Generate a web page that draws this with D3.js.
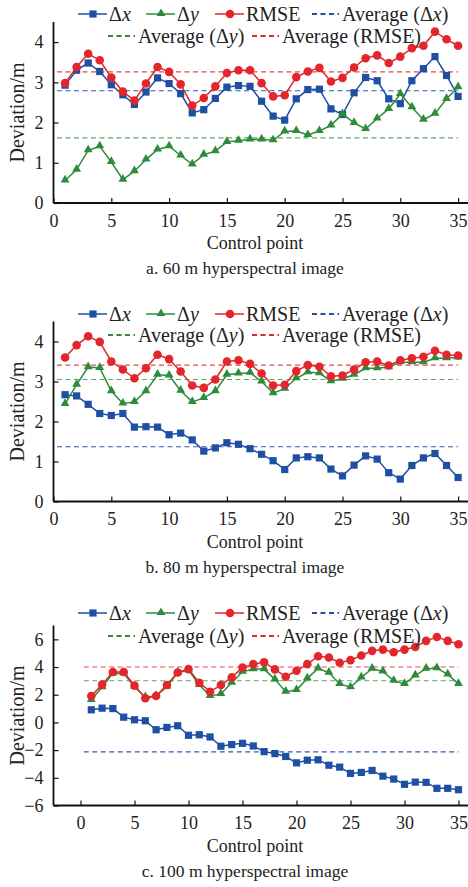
<!DOCTYPE html>
<html>
<head>
<meta charset="utf-8">
<script src="https://cdn.jsdelivr.net/npm/d3@7"></script>
<style>
  body { margin: 0; background: #fff; }
  svg { display: block; font-family: "Liberation Serif", "DejaVu Serif", serif; }
</style>
</head>
<body>
<svg id="chart" width="468" height="887"></svg>
<script>
// control points 1..35
var points = d3.range(1, 36);

// a. 60 m
var dx60 = [2.93,3.30,3.48,3.27,2.94,2.69,2.45,2.76,3.11,2.97,2.72,2.24,2.32,2.60,2.88,2.92,2.90,2.53,2.16,2.06,
            2.59,2.82,2.83,2.34,2.20,2.74,3.12,3.04,2.59,2.47,3.04,3.34,3.64,3.17,2.65];
var dy60 = [0.56,0.83,1.31,1.41,1.02,0.58,0.79,1.08,1.33,1.41,1.18,0.96,1.20,1.29,1.52,1.55,1.58,1.58,1.56,1.78,
            1.79,1.69,1.79,1.93,2.21,1.99,1.84,2.10,2.34,2.71,2.38,2.07,2.22,2.59,2.88];
var rmse60 = [2.98,3.38,3.71,3.55,3.12,2.77,2.55,2.97,3.38,3.26,2.95,2.42,2.61,2.90,3.23,3.30,3.30,2.98,2.65,2.68,
              3.13,3.27,3.36,3.02,3.11,3.37,3.60,3.67,3.48,3.64,3.85,3.91,4.26,4.07,3.91];
var avg60 = [2.79, 1.62, 3.26];

// b. 80 m
var dx80 = [2.67,2.64,2.43,2.20,2.15,2.20,1.86,1.87,1.86,1.67,1.71,1.54,1.26,1.34,1.47,1.43,1.32,1.18,1.02,0.80,
            1.09,1.12,1.09,0.81,0.64,0.91,1.14,1.06,0.72,0.56,0.90,1.09,1.20,0.90,0.60];
var dy80 = [2.44,2.92,3.36,3.34,2.76,2.45,2.49,2.76,3.17,3.15,2.77,2.49,2.59,2.76,3.17,3.20,3.22,3.00,2.71,2.82,
            3.08,3.23,3.21,3.01,3.07,3.17,3.33,3.33,3.36,3.48,3.48,3.48,3.58,3.58,3.60];
var rmse80 = [3.60,3.91,4.13,3.99,3.50,3.30,3.08,3.33,3.67,3.56,3.25,2.90,2.84,3.05,3.50,3.53,3.44,3.20,2.90,2.92,
              3.26,3.41,3.37,3.13,3.15,3.30,3.48,3.50,3.40,3.53,3.58,3.62,3.77,3.67,3.65];
var avg80 = [1.37, 3.05, 3.41];

// c. 100 m
var dx100 = [0.91,1.03,1.00,0.38,0.19,0.12,-0.53,-0.36,-0.24,-0.93,-0.89,-1.05,-1.72,-1.60,-1.51,-1.70,-2.11,-2.25,-2.46,-2.92,
             -2.73,-2.70,-3.09,-3.23,-3.68,-3.61,-3.47,-3.88,-4.09,-4.47,-4.31,-4.33,-4.76,-4.76,-4.86];
var dy100 = [1.63,2.54,3.54,3.54,2.58,1.82,1.91,2.58,3.59,3.78,2.70,1.91,2.06,2.87,3.66,3.85,3.85,3.11,2.22,2.34,
             3.18,3.90,3.59,2.78,2.54,3.25,3.88,3.68,3.01,2.78,3.40,3.88,3.92,3.47,2.78];
var rmse100 = [1.91,2.73,3.64,3.64,2.66,1.75,1.91,2.70,3.61,3.85,2.87,2.22,2.70,3.25,3.97,4.21,4.35,3.83,3.30,3.73,
               4.21,4.78,4.69,4.31,4.50,4.83,5.17,5.26,5.07,5.26,5.45,5.89,6.17,5.89,5.65];
var avg100 = [-2.13, 3.01, 4.00];

var xTicks = [0, 5, 10, 15, 20, 25, 30, 35];
var seriesNames = ["\u0394x", "\u0394y", "RMSE"];
var titles = ["a. 60 m hyperspectral image", "b. 80 m hyperspectral image", "c. 100 m hyperspectral image"];

var colors = ["#1f4fa3", "#2f8a3c", "#e3262b"];
var avgColors = ["#2a5cb0", "#5aa866", "#e8484c"];

var svg = d3.select("#chart");

var panels = [
  {series: [dx60, dy60, rmse60], avg: avg60, title: titles[0], top: 22, bottom: 203, xdom: [0, 36], ydom: [0, 4.5],
   yticks: [0, 1, 2, 3, 4], leg1: 14, leg2: 36},
  {series: [dx80, dy80, rmse80], avg: avg80, title: titles[1], top: 321.5, bottom: 501.5, xdom: [0, 36], ydom: [0, 4.5],
   yticks: [0, 1, 2, 3, 4], leg1: 314, leg2: 335},
  {series: [dx100, dy100, rmse100], avg: avg100, title: titles[2], top: 625.5, bottom: 805.5, xdom: [-2.5, 36], ydom: [-6, 7],
   yticks: [-6, -4, -2, 0, 2, 4, 6], leg1: 613, leg2: 636}
];

var left = 53.5;

function marker(g, type, color, x, y) {
  if (type == 0) {
    g.append("rect").attr("x", x - 3.6).attr("y", y - 3.6).attr("width", 7.2).attr("height", 7.2).attr("fill", color);
  } else if (type == 1) {
    g.append("path").attr("d", d3.symbol(d3.symbolTriangle, 34)()).attr("transform", "translate(" + x + "," + (y - 0.5) + ")").attr("fill", color);
  } else {
    g.append("circle").attr("cx", x).attr("cy", y).attr("r", 4.3).attr("fill", color);
  }
}

panels.forEach(function(p) {
  var x = d3.scaleLinear().domain(p.xdom).range([left, left + (p.xdom[1] - p.xdom[0]) * (p.xdom[0] < 0 ? 10.8 : 11.56)]);
  var y = d3.scaleLinear().domain(p.ydom).range([p.bottom, p.top]);
  var g = svg.append("g");

  // average lines
  p.avg.forEach(function(a, i) {
    g.append("line")
      .attr("x1", x(0.3)).attr("x2", x(35))
      .attr("y1", y(a)).attr("y2", y(a))
      .attr("stroke", avgColors[i]).attr("stroke-width", 1.1)
      .attr("stroke-dasharray", "5,3.5");
  });

  // series
  var line = d3.line().x(function(d, i) { return x(points[i]); }).y(function(d) { return y(d); });
  p.series.forEach(function(s, k) {
    g.append("path").datum(s)
      .attr("d", line)
      .attr("fill", "none")
      .attr("stroke", colors[k])
      .attr("stroke-width", 1.5);
    s.forEach(function(d, i) {
      marker(g, k, colors[k], x(points[i]), y(d));
    });
  });

  // axes
  var xAxis = d3.axisBottom(x).tickValues(xTicks).tickSize(-5).tickPadding(11).tickFormat(d3.format("d"));
  var yAxis = d3.axisLeft(y).tickValues(p.yticks).tickSize(-5).tickPadding(10).tickFormat(function(d) { return d < 0 ? "\u2212" + Math.abs(d) : d; });

  var gx = g.append("g").attr("transform", "translate(0," + p.bottom + ")").call(xAxis);
  var gy = g.append("g").attr("transform", "translate(" + left + ",0)").call(yAxis);
  [gx, gy].forEach(function(ax) {
    ax.select(".domain").attr("stroke", "#111").attr("stroke-width", 1.8);
    ax.selectAll(".tick line").attr("stroke", "#111").attr("stroke-width", 1.2);
    ax.selectAll("text").attr("font-family", "Liberation Serif").attr("font-size", 18).attr("fill", "#222");
  });
  gx.select(".domain").attr("d", "M" + left + ",0H468");
  gy.select(".domain").attr("d", "M0," + p.bottom + "V" + p.top);

  // axis titles
  g.append("text").attr("x", 255).attr("y", p.bottom + 46)
    .attr("text-anchor", "middle").attr("font-size", 18).attr("fill", "#222").text("Control point");
  g.append("text").attr("transform", "translate(24," + ((p.top + p.bottom) / 2) + ") rotate(-90)")
    .attr("text-anchor", "middle").attr("font-size", 20).attr("fill", "#222").text("Deviation/m");
  g.append("text").attr("x", 245).attr("y", p.bottom + 71)
    .attr("text-anchor", "middle").attr("font-size", 17.5).attr("fill", "#222").text(p.title);

  // legend row 1
  var leg = g.append("g").attr("font-size", 20).attr("fill", "#222");
  var solidX = [78, 146, 215];
  seriesNames.forEach(function(n, k) {
    var lx = solidX[k];
    leg.append("line").attr("x1", lx).attr("x2", lx + 29).attr("y1", p.leg1).attr("y2", p.leg1)
      .attr("stroke", colors[k]).attr("stroke-width", 1.5);
    marker(leg, k, colors[k], lx + 15, p.leg1);
    var t = leg.append("text").attr("x", lx + 31).attr("y", p.leg1 + 6.5);
    if (k < 2) {
      t.append("tspan").text("\u0394");
      t.append("tspan").attr("font-style", "italic").text(k == 0 ? "x" : "y");
    } else {
      t.text(n);
    }
  });

  // dashed average legend entries
  var dashed = [[312, p.leg1, 0], [108, p.leg2, 1], [252, p.leg2, 2]];
  dashed.forEach(function(d) {
    var k = d[2];
    leg.append("line").attr("x1", d[0]).attr("x2", d[0] + 27).attr("y1", d[1]).attr("y2", d[1])
      .attr("stroke", colors[k]).attr("stroke-width", 1.8).attr("stroke-dasharray", "5,3.5");
    var t = leg.append("text").attr("x", d[0] + 30).attr("y", d[1] + 6.5);
    if (k < 2) {
      t.append("tspan").text("Average (\u0394");
      t.append("tspan").attr("font-style", "italic").text(k == 0 ? "x" : "y");
      t.append("tspan").text(")");
    } else {
      t.text("Average (RMSE)");
    }
  });
});
</script>
</body>
</html>
